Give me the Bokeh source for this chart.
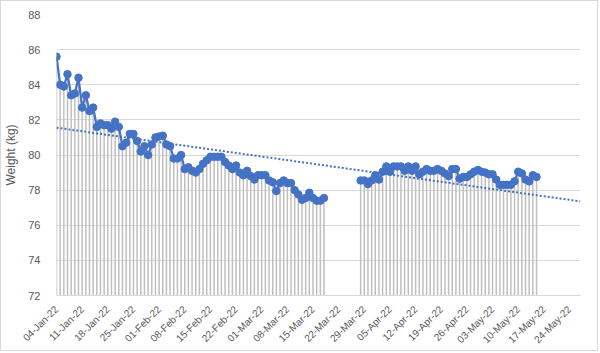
import numpy as np
import pandas as pd
from bokeh.plotting import figure
from bokeh.models import (FixedTicker, DatetimeTickFormatter,
                          ColumnDataSource, Range1d)
from bokeh.embed import file_html
from bokeh.resources import INLINE
import math

# ---------------- data ----------------
seg1_start = "2022-01-04"
seg1_weights = [85.6, 84.0, 83.9, 84.6, 83.4, 83.5, 84.4, 82.7, 83.4, 82.5,
                82.7, 81.6, 81.8, 81.7, 81.7, 81.5, 81.9, 81.6, 80.5, 80.7,
                81.2, 81.2, 80.8, 80.2, 80.5, 80.0, 80.6, 81.0, 81.05, 81.1,
                80.6, 80.5, 79.8, 79.8, 80.0, 79.2, 79.3, 79.1, 79.0, 79.2,
                79.5, 79.7, 79.9, 79.9, 79.9, 79.9, 79.6, 79.4, 79.2, 79.4,
                79.0, 78.85, 79.1, 78.8, 78.6, 78.85, 78.85, 78.85, 78.55, 78.45,
                77.95, 78.4, 78.55, 78.4, 78.4, 78.0, 77.75, 77.45, 77.55, 77.85,
                77.55, 77.4, 77.4, 77.55]

seg2_start = "2022-03-28"
seg2_weights = [78.55, 78.55, 78.35, 78.55, 78.85, 78.6, 79.05, 79.35, 79.05, 79.35,
                79.35, 79.35, 79.1, 79.35, 79.1, 79.35, 78.9, 79.05, 79.2, 79.1,
                79.1, 79.2, 79.1, 78.95, 78.8, 79.2, 79.2, 78.65, 78.75, 78.75,
                78.9, 79.05, 79.15, 79.05, 79.0, 78.9, 78.9, 78.6, 78.3, 78.3,
                78.3, 78.3, 78.5, 79.05, 78.95, 78.6, 78.5, 78.85, 78.75]

axis_start = "2022-01-04"
axis_end = "2022-05-27"
tick_dates = ["2022-01-04", "2022-01-11", "2022-01-18", "2022-01-25", "2022-02-01",
              "2022-02-08", "2022-02-15", "2022-02-22", "2022-03-01", "2022-03-08",
              "2022-03-15", "2022-03-22", "2022-03-29", "2022-04-05", "2022-04-12",
              "2022-04-19", "2022-04-26", "2022-05-03", "2022-05-10", "2022-05-17",
              "2022-05-24"]
y_ticks = [72, 74, 76, 78, 80, 82, 84, 86, 88]
y_label = "Weight (kg)"

# ---------------- build ----------------
def ms(d):
    return (pd.Timestamp(d) - pd.Timestamp("1970-01-01")) // pd.Timedelta("1ms")

d1 = pd.date_range(seg1_start, periods=len(seg1_weights), freq="D")
d2 = pd.date_range(seg2_start, periods=len(seg2_weights), freq="D")
src1 = ColumnDataSource(dict(x=d1, y=seg1_weights))
src2 = ColumnDataSource(dict(x=d2, y=seg2_weights))

# linear trend (as Excel's linear trendline)
all_days = np.concatenate([(d1 - pd.Timestamp(axis_start)).days.values,
                           (d2 - pd.Timestamp(axis_start)).days.values]).astype(float)
all_w = np.array(seg1_weights + seg2_weights)
slope, intercept = np.polyfit(all_days, all_w, 1)
t_dates = [pd.Timestamp(axis_start), pd.Timestamp(axis_end)]
t_days = np.array([(t - pd.Timestamp(axis_start)).days for t in t_dates], dtype=float)
t_vals = intercept + slope * t_days

ymin, ymax = y_ticks[0], y_ticks[-1]

p = figure(width=598, height=351, output_backend="svg", toolbar_location=None,
           x_axis_type="datetime",
           x_range=Range1d(pd.Timestamp(axis_start), pd.Timestamp(axis_end)),
           y_range=Range1d(ymin, ymax),
           min_border_left=54, min_border_right=19, min_border_top=13,
           min_border_bottom=56)
p.styles = {"border": "1px solid #D9D9D9"}
p.outline_line_color = None
p.background_fill_color = "white"
p.border_fill_color = "white"

BLUE = "#4472C4"
GRID = "#D9D9D9"
TXT = "#595959"
FONT = "Liberation Sans"

# grid
p.xgrid.grid_line_color = None
p.ygrid.grid_line_color = GRID
p.ygrid.grid_line_width = 1

# y axis
p.yaxis.ticker = FixedTicker(ticks=y_ticks)
p.yaxis.axis_line_color = None
p.yaxis.major_tick_line_color = None
p.yaxis.minor_tick_line_color = None
p.yaxis.major_label_text_color = TXT
p.yaxis.major_label_text_font = FONT
p.yaxis.major_label_text_font_size = "11px"
p.yaxis.major_label_standoff = 10
p.yaxis.axis_label = y_label
p.yaxis.axis_label_text_font = FONT
p.yaxis.axis_label_text_font_size = "12px"
p.yaxis.axis_label_text_font_style = "normal"
p.yaxis.axis_label_text_color = TXT
p.yaxis.axis_label_standoff = 7

# x axis
p.xaxis.ticker = FixedTicker(ticks=[ms(d) for d in tick_dates])
p.xaxis.formatter = DatetimeTickFormatter(days="%d-%b-%y", months="%d-%b-%y")
p.xaxis.major_label_orientation = math.pi / 4
p.xaxis.axis_line_color = GRID
p.xaxis.major_tick_line_color = None
p.xaxis.minor_tick_line_color = None
p.xaxis.major_label_text_color = TXT
p.xaxis.major_label_text_font = FONT
p.xaxis.major_label_text_font_size = "10px"
p.xaxis.major_label_standoff = 6

# drop lines
for s in (src1, src2):
    p.segment(x0="x", y0=ymin, x1="x", y1="y", source=s,
              line_color="#BFBFBF", line_width=1.5)

# series
for s in (src1, src2):
    p.line("x", "y", source=s, line_color=BLUE, line_width=2.25)
    p.scatter("x", "y", source=s, marker="circle", size=7.5,
              fill_color=BLUE, line_color=BLUE)

# trendline
p.line(t_dates, t_vals, line_color=BLUE, line_width=2, line_dash="2 2")

open("out.html", "w").write(file_html(p, INLINE))
